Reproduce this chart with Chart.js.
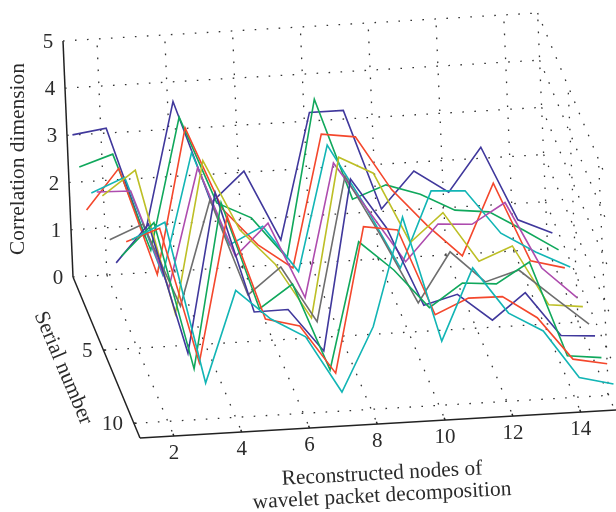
<!DOCTYPE html>
<html>
<head>
<meta charset="utf-8">
<style>
html, body { margin: 0; padding: 0; background: #fff; }
canvas { display: block; }
</style>
<script src="https://cdn.jsdelivr.net/npm/chart.js@4"></script>
</head>
<body>
<canvas id="grafico" width="616" height="512"></canvas>
<script>
const nodes = [1, 2, 3, 4, 5, 6, 7, 8, 9, 10, 11, 12, 13, 14, 15];
const nodeTicks = [2, 4, 6, 8, 10, 12, 14];
const serialTicks = [5, 10];
const dimTicks = [0, 1, 2, 3, 4, 5];

const serie1 = [3.32, 3.42, 1.1, 3.9, 1.71, 2.34, 0.84, 3.5, 3.5, 1.37, 2.13, 1.64, 2.55, 0.97, 0.65];
const serie2 = [2.95, 3.18, 1.1, 3.88, 2.02, 1.66, 0.77, 4.09, 1.93, 2.19, 1.95, 1.57, 1.49, 1.06, 0.6];
const serie3 = [2.35, 3.19, 0.9, 3.96, 2.2, 1.4, 0.87, 3.66, 3.56, 2.4, 1.6, 0.91, 2.41, 0.72, 0.53];
const serie4 = [3.02, 3.31, 1.2, 3.75, 1.75, 2.1, 1.1, 3.74, 2.46, 1.05, 2.64, 2.6, 1.66, 1.22, 0.86];
const serie5 = [3.35, 3.33, 1.23, 3.74, 1.82, 2.48, 0.86, 3.67, 2.59, 1.49, 2.25, 2.2, 2.62, 1.19, 0.52];
const serie6 = [3.58, 4.08, 1.0, 4.2, 2.69, 1.92, 0.74, 4.1, 3.72, 2.21, 2.8, 1.73, 2.01, 0.72, 0.64];
const serie7 = [2.96, 3.25, 1.47, 3.68, 1.62, 2.17, 0.97, 4.01, 2.68, 1.24, 2.28, 1.6, 1.81, 1.19, 0.58];
const serie8 = [2.78, 3.56, 0.78, 4.14, 1.57, 1.58, 0.66, 4.26, 3.18, 1.5, 1.69, 1.1, 1.64, 0.69, 0.64];
const serie9 = [3.23, 3.9, 0.76, 4.24, 1.95, 2.43, 0.57, 3.24, 2.6, 1.76, 2.24, 2.18, 2.6, 0.57, 0.49];
const serie10 = [3.85, 4.09, 1.2, 4.26, 2.04, 1.85, 0.81, 3.87, 3.76, 1.92, 2.23, 2.22, 1.73, 0.81, 0.67];
const serie11 = [4.2, 4.53, 1.08, 3.0, 2.35, 1.93, 0.72, 2.06, 4.34, 1.67, 3.18, 2.18, 1.76, 0.73, 0.55];

const series = [serie1, serie2, serie3, serie4, serie5, serie6, serie7, serie8, serie9, serie10, serie11];

const colors = ['#40389c', '#10a85c', '#f4472c', '#12b5b5', '#ae4cae', '#bdbf26', '#6e6e6e',
    '#40389c', '#10a85c', '#f4472c', '#12b5b5'];

const maxSerial = 11;
const maxDim = 5;
const tickFont = '21px "Liberation Serif"';
const titleFont = '21.4px "Liberation Serif"';
const inkColor = '#2b2b2b';

// oblique projection of (node, serial, dimension) onto the flat page
function project(node, serial, dim) {
    return {
        x: 140 + (node - 1) * 33.9 - (maxSerial - serial) * 6.09 - dim * 2,
        y: 438 - (node - 1) * 2 - (maxSerial - serial) * 14.64 - dim * 47.2
    };
}

function segment(a, b, dotted) {
    return {
        data: [project(a[0], a[1], a[2]), project(b[0], b[1], b[2])],
        showLine: true,
        borderColor: dotted ? '#333' : '#222',
        borderWidth: dotted ? 1.3 : 1.5,
        borderDash: dotted ? [1.6, 10.4] : [],
        pointRadius: 0,
        order: 100
    };
}

const datasets = [];

series.forEach(function (values, i) {
    datasets.push({
        data: nodes.map(function (n, k) { return project(n, i + 1, values[k]); }),
        showLine: true,
        borderColor: colors[i],
        borderWidth: 1.6,
        pointRadius: 0,
        tension: 0,
        order: series.length - i
    });
});

// walls and floor
dimTicks.slice(1).forEach(function (d) {
    datasets.push(segment([1, 0, d], [15, 0, d], true));
    datasets.push(segment([15, 0, d], [15, maxSerial, d], true));
});
nodeTicks.forEach(function (n) {
    datasets.push(segment([n, 0, 0], [n, 0, maxDim], true));
    datasets.push(segment([n, 0, 0], [n, maxSerial, 0], true));
    datasets.push(segment([n, maxSerial, 0], [n, maxSerial - 0.15, 0], false));
});
serialTicks.forEach(function (s) {
    datasets.push(segment([1, s, 0], [15, s, 0], true));
    datasets.push(segment([15, s, 0], [15, s, maxDim], true));
    datasets.push(segment([1, s, 0], [1.08, s, 0], false));
});
datasets.push(segment([1, 0, 0], [15, 0, 0], true));
datasets.push(segment([15, 0, 0], [15, 0, maxDim], true));
datasets.push(segment([15, 0, 0], [15, maxSerial, 0], true));

// solid axes
datasets.push(segment([1, 0, 0], [1, 0, maxDim], false));
datasets.push(segment([1, 0, 0], [1, maxSerial, 0], false));
datasets.push(segment([1, maxSerial, 0], [15.1, maxSerial, 0], false));

function drawText(ctx, text, x, y, angle, font, align) {
    ctx.save();
    ctx.translate(x, y);
    ctx.rotate(angle * Math.PI / 180);
    ctx.font = font;
    ctx.fillStyle = inkColor;
    ctx.textAlign = align || 'center';
    ctx.textBaseline = 'middle';
    ctx.fillText(text, 0, 0);
    ctx.restore();
}

const axisText = {
    id: 'axisText',
    afterDraw: function (chart) {
        const ctx = chart.ctx;
        dimTicks.forEach(function (d) {
            const p = project(1, 0, d);
            drawText(ctx, String(d), p.x - 15, p.y + 1.5, 0, tickFont);
        });
        serialTicks.forEach(function (s) {
            const p = project(1, s, 0);
            drawText(ctx, String(s), p.x - 11, p.y + 1, 0, tickFont, 'right');
        });
        nodeTicks.forEach(function (n) {
            const p = project(n, maxSerial, 0);
            drawText(ctx, String(n), p.x, p.y + 17, 0, tickFont);
        });
        drawText(ctx, 'Correlation dimension', 18, 159, -90, titleFont);
        drawText(ctx, 'Serial number', 63, 368, 67, titleFont);
        drawText(ctx, 'Reconstructed nodes of', 382, 474, -3, titleFont);
        drawText(ctx, 'wavelet packet decomposition', 382, 496, -3, titleFont);
    }
};

const chart = new Chart(document.getElementById('grafico'), {
    type: 'scatter',
    data: { datasets: datasets },
    plugins: [axisText],
    options: {
        responsive: false,
        animation: false,
        layout: { padding: 0 },
        scales: {
            x: { type: 'linear', min: 0, max: 616, display: false },
            y: { type: 'linear', min: 0, max: 512, reverse: true, display: false }
        },
        plugins: {
            legend: { display: false },
            tooltip: { enabled: false }
        }
    }
});
</script>
</body>
</html>
